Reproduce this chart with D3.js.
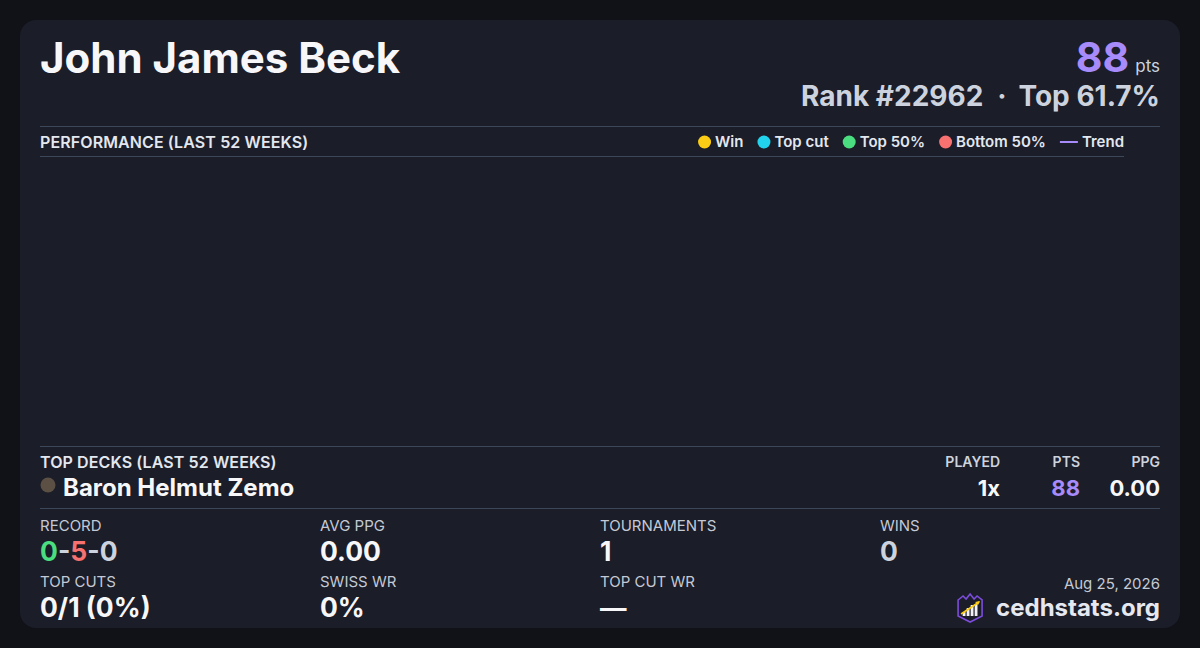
<!DOCTYPE html>
<html>
<head>
<meta charset="utf-8">
<script src="https://cdn.jsdelivr.net/npm/d3@7"></script>
<style>
  html, body { margin: 0; padding: 0; background: #111217; }
  svg { display: block; font-family: Inter, "Noto Sans", sans-serif; }
</style>
</head>
<body>
<svg id="drawing_region"></svg>
<script>
// player summary
const playerName = "John James Beck";
const points = 88;
const rank = 22962;
const topPercent = 61.7;

// performance series (nothing in the last 52 weeks)
const perfWeeks = [];
const perfPoints = [];
const legendLabels = ["Win", "Top cut", "Top 50%", "Bottom 50%", "Trend"];
const legendColors = ["#facc15", "#22d3ee", "#4ade80", "#f87171", "#a78bfa"];

// top decks
const deckNames = ["Baron Helmut Zemo"];
const deckPlayed = [1];
const deckPts = [88];
const deckPpg = [0.00];
const deckColors = ["#5b5043"];

// stats
const statLabels = ["RECORD", "AVG PPG", "TOURNAMENTS", "WINS", "TOP CUTS", "SWISS WR", "TOP CUT WR"];
const statValues = ["0-5-0", "0.00", "1", "0", "0/1 (0%)", "0%", "—"];
const recordParts = [0, 5, 0];
const dateLabel = "Aug 25, 2026";

const W = 1200, H = 648;
const svg = d3.select("#drawing_region").attr("width", W).attr("height", H);

svg.append("rect").attr("width", W).attr("height", H).attr("fill", "#111217");
svg.append("rect").attr("x", 20).attr("y", 20).attr("width", 1160).attr("height", 608)
  .attr("rx", 16).attr("fill", "#1b1d28");

const white = "#f7f7f9", soft = "#cdd3de", line = "#3d475a", purple = "#a78bfa";

// header
svg.append("text").attr("x", 40).attr("y", 73)
  .attr("font-size", 42).attr("font-weight", 700).attr("fill", white).text(playerName);

const ptsLine = svg.append("text").attr("x", 1160).attr("y", 72).attr("text-anchor", "end");
ptsLine.append("tspan").attr("font-size", 41).attr("font-weight", 700).attr("fill", purple).text(points);
ptsLine.append("tspan").attr("dx", 6).attr("font-size", 17).attr("fill", soft).text("pts");

const rankLine = svg.append("text").attr("x", 1160).attr("y", 106).attr("text-anchor", "end")
  .attr("font-size", 28).attr("font-weight", 700).attr("fill", soft);
rankLine.append("tspan").text(`Rank #${rank}`);
rankLine.append("tspan").attr("dx", 14).text("·");
rankLine.append("tspan").attr("dx", 14).text(`Top ${topPercent}%`);

svg.append("line").attr("x1", 40).attr("x2", 1160).attr("y1", 126.5).attr("y2", 126.5)
  .attr("stroke", line);

// performance section
svg.append("text").attr("x", 40).attr("y", 148)
  .attr("font-size", 16).attr("font-weight", 600).attr("fill", "#e3e7ef")
  .attr("letter-spacing", 0.1)
  .text("PERFORMANCE (LAST 52 WEEKS)");

svg.append("line").attr("x1", 40).attr("x2", 1124).attr("y1", 156.5).attr("y2", 156.5)
  .attr("stroke", line);

// legend laid out right to left ending at x=1124
const legend = svg.append("g");
let lx = 1124;
for (let i = legendLabels.length - 1; i >= 0; i--) {
  const t = legend.append("text").attr("y", 147).attr("font-size", 15).attr("font-weight", 600)
    .attr("fill", "#e3e7ef").attr("text-anchor", "end").attr("x", lx).text(legendLabels[i]);
  const w = t.node().getComputedTextLength();
  const sx = lx - w - 4;
  if (legendLabels[i] === "Trend") {
    legend.append("line").attr("x1", sx - 18).attr("x2", sx).attr("y1", 142).attr("y2", 142)
      .attr("stroke", legendColors[i]).attr("stroke-width", 2);
    lx = sx - 18 - 14;
  } else {
    legend.append("circle").attr("cx", sx - 6.5).attr("cy", 142).attr("r", 6.5).attr("fill", legendColors[i]);
    lx = sx - 13 - 14;
  }
}

const chart = svg.append("g");
const xScale = d3.scaleLinear().domain([0, 52]).range([40, 1124]);
const yScale = d3.scaleLinear().domain([0, d3.max(perfPoints) || 1]).range([436, 166]);
chart.selectAll("circle").data(perfWeeks).join("circle")
  .attr("cx", (d, i) => xScale(d)).attr("cy", (d, i) => yScale(perfPoints[i])).attr("r", 5);

svg.append("line").attr("x1", 40).attr("x2", 1160).attr("y1", 446.5).attr("y2", 446.5)
  .attr("stroke", line);

// top decks
svg.append("text").attr("x", 40).attr("y", 468)
  .attr("font-size", 16).attr("font-weight", 600).attr("fill", "#e3e7ef")
  .attr("letter-spacing", 0.1)
  .text("TOP DECKS (LAST 52 WEEKS)");

const colX = [1000, 1080, 1160];
["PLAYED", "PTS", "PPG"].forEach((h, i) => {
  svg.append("text").attr("x", colX[i]).attr("y", 467).attr("text-anchor", "end")
    .attr("font-size", 14).attr("font-weight", 600).attr("fill", soft).text(h);
});

deckNames.forEach((name, i) => {
  const y = 496 + i * 30;
  svg.append("circle").attr("cx", 48).attr("cy", y - 11).attr("r", 7.5).attr("fill", deckColors[i]);
  svg.append("text").attr("x", 63).attr("y", y).attr("font-size", 24).attr("font-weight", 700)
    .attr("fill", white).text(name);
  const vals = [deckPlayed[i] + "x", deckPts[i], d3.format(".2f")(deckPpg[i])];
  vals.forEach((v, j) => {
    svg.append("text").attr("x", colX[j]).attr("y", y).attr("text-anchor", "end")
      .attr("font-size", 22).attr("font-weight", 700)
      .attr("fill", j === 1 ? purple : white).text(v);
  });
});

svg.append("line").attr("x1", 40).attr("x2", 1160).attr("y1", 508.5).attr("y2", 508.5)
  .attr("stroke", line);

// stats grid
const gridX = [40, 320, 600, 880];
statLabels.forEach((lab, i) => {
  const col = i % 4, row = Math.floor(i / 4);
  const x = gridX[col];
  const ly = row === 0 ? 531 : 587;
  const vy = row === 0 ? 561 : 617;
  svg.append("text").attr("x", x).attr("y", ly).attr("font-size", 15)
    .attr("fill", "#c4cad5").text(lab);
  const v = svg.append("text").attr("x", x).attr("y", vy).attr("font-size", 26.5).attr("font-weight", 700);
  if (lab === "RECORD") {
    const cols = ["#4ade80", "#f87171", soft];
    recordParts.forEach((p, k) => {
      if (k > 0) v.append("tspan").attr("fill", soft).text("-");
      v.append("tspan").attr("fill", cols[k]).text(p);
    });
  } else {
    v.attr("fill", lab === "WINS" ? soft : white).text(statValues[i]);
  }
});

// footer
svg.append("text").attr("x", 1160).attr("y", 589).attr("text-anchor", "end")
  .attr("font-size", 15).attr("fill", "#c4cad5").text(dateLabel);
const brand = svg.append("text").attr("x", 1160).attr("y", 616).attr("text-anchor", "end")
  .attr("font-size", 24).attr("font-weight", 700).attr("fill", "#e6e8f0").text("cedhstats.org");
const bw = brand.node().getComputedTextLength();

// logo: shield with crown, bars and arrow
const logo = svg.append("g").attr("transform", `translate(${1160 - bw - 40},593)`);
logo.append("path")
  .attr("d", "M2,7 L7,3 L10,6 L14,1 L18,6 L21,3 L26,7 L26,23 L14,29 L2,23 Z")
  .attr("fill", "#1b1d28").attr("stroke", "#7c4ddb").attr("stroke-width", 1.6);
[[8, 19, 4], [12, 15, 8], [16, 12, 11], [20, 11, 12]].forEach(([bx, by, bh]) => {
  logo.append("rect").attr("x", bx - 1.4).attr("y", by).attr("width", 2.8).attr("height", bh)
    .attr("fill", "#f2f2f5");
});
logo.append("line").attr("x1", 5).attr("y1", 21).attr("x2", 23).attr("y2", 9)
  .attr("stroke", "#facc15").attr("stroke-width", 1.6);
logo.append("path").attr("d", "M24,8 L19,9 L22,12 Z").attr("fill", "#facc15");
</script>
</body>
</html>
